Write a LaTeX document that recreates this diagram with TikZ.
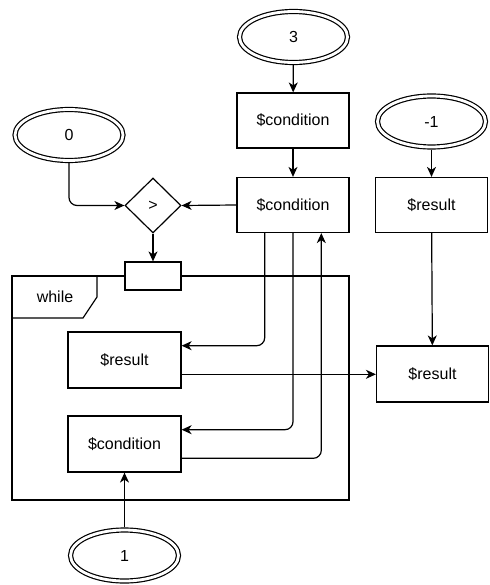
\documentclass[tikz,border=0pt]{standalone}
\usepackage{fontspec}
\setmainfont{Liberation Sans}
\usetikzlibrary{shapes.geometric,arrows.meta,calc}
\begin{document}
\begin{tikzpicture}[x=1pt,y=-1pt,
  lw/.style={line width=1.2pt},
  every node/.style={font=\fontsize{16}{19}\selectfont, inner sep=0pt},
  box/.style={lw, draw, fill=white, minimum width=112pt, minimum height=55pt},
  smallbox/.style={lw, draw, fill=white, minimum width=56pt, minimum height=28pt},
  dell/.style={ellipse, lw, draw, double, double distance=2.8pt, fill=white,
    minimum width=108pt, minimum height=51pt, outer sep=2.6pt},
  test/.style={diamond, lw, draw, fill=white, minimum width=56pt, minimum height=55pt},
  arr/.style={lw, -{Stealth[length=10pt,width=9pt,inset=3pt]}},
  softturn/.style={rounded corners=8pt}]
\useasboundingbox (0,0) rectangle (489,585);

% loop frame with its label tab
\draw[lw] (12,276) rectangle (349,500);
\draw[lw] (97,276) -- (97,297) -- (83,318) -- (12,318);
\node (whilelbl) at (55,297) {while};

% nodes
\node[dell] (e3) at (293.5,37) {3};
\node[box] (c1) at (293,120.5) {\$condition};
\node[box] (c2) at (293,205) {\$condition};
\node[dell] (em1) at (431.5,121.5) {-1};
\node[box] (r1) at (431.5,205) {\$result};
\node[dell] (e0) at (69,135) {0};
\node[test] (gt) at (153,205.5) {>};
\node[smallbox] (sb) at (153,276) {};
\node[box, minimum width=113pt, minimum height=56pt] (rin) at (124.5,360) {\$result};
\node[box, minimum width=113pt, minimum height=56pt] (cin) at (124.5,444) {\$condition};
\node[dell] (e1) at (124.5,555.5) {1};
\node[box, minimum height=56pt] (r2) at (432.5,374) {\$result};

% connectors
\draw[arr] (e3) -- (c1);
\draw[arr] (c1) -- (c2);
\draw[arr] (em1) -- (r1);
\draw[arr] (r1) -- (r2);
\draw[arr, softturn] (e0.south) |- (gt.west);
\draw[arr] (c2.west) -- (gt.east);
\draw[arr] (gt.south) -- (sb.north);
\draw[arr, softturn] ($(c2.south west)!0.25!(c2.south east)$) |- ($(rin.north east)!0.25!(rin.south east)$);
\draw[arr, softturn] (c2.south) |- ($(cin.north east)!0.25!(cin.south east)$);
\draw[arr, softturn] ($(cin.north east)!0.75!(cin.south east)$) -| ($(c2.south west)!0.75!(c2.south east)$);
\coordinate (rout) at ($(rin.north east)!0.75!(rin.south east)$);
\draw[arr] (rout) -- (rout -| r2.west);
\draw[arr] (e1) -- (cin);
\end{tikzpicture}
\end{document}
